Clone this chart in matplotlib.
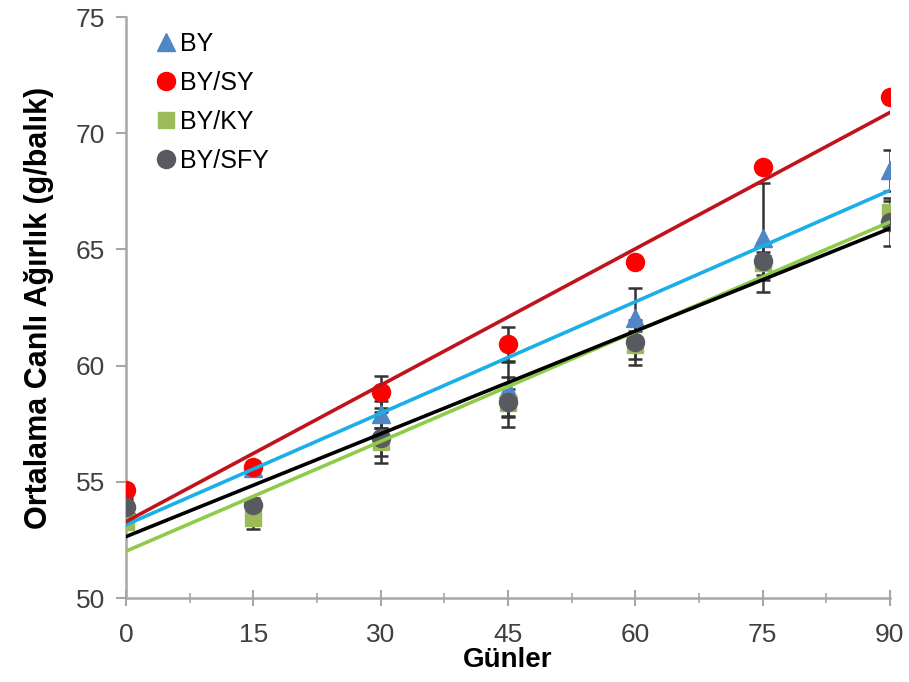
import numpy as np
import matplotlib
matplotlib.use("Agg")
import matplotlib.pyplot as plt
from matplotlib.ticker import MultipleLocator

plt.rcParams["font.family"] = ["Liberation Sans", "DejaVu Sans"]

# gunler (days)
gunler = [0, 15, 30, 45, 60, 75, 90]

# ortalama canli agirlik, g/balik
by_vals = [54.0, 55.6, 57.9, 59.0, 62.05, 65.5, 68.4]
by_err = [0.3, 0.3, 0.6, 1.15, 1.3, 2.35, 0.9]
bysy_vals = [54.65, 55.64, 58.86, 60.93, 64.46, 68.55, 71.56]
bysy_err = [0.2, 0.2, 0.7, 0.73, 0.2, 0.2, 0.2]
byky_vals = [53.27, 53.44, 56.7, 58.4, 60.9, 64.4, 66.6]
byky_err = [0.3, 0.45, 0.6, 0.6, 0.6, 0.5, 0.5]
bysfy_vals = [53.92, 54.0, 56.9, 58.43, 61.0, 64.5, 66.18]
bysfy_err = [0.3, 0.3, 1.1, 1.07, 0.95, 0.8, 1.03]

seriler = [
    ("BY", by_vals, by_err, "^", "#4F86C6", "#1AAFE6", 13),
    ("BY/SY", bysy_vals, bysy_err, "o", "#FF0000", "#C0141C", 13),
    ("BY/KY", byky_vals, byky_err, "s", "#9BBB59", "#8FCB4A", 12),
    ("BY/SFY", bysfy_vals, bysfy_err, "o", "#595A60", "#000000", 13),
]

fig = plt.figure(figsize=(9.09, 6.82), dpi=100)
ax = fig.add_axes([0.1386, 0.123, 0.8404, 0.852])

x = np.array(gunler, dtype=float)
for ad, y, err, mk, renk, cizgi, ms in seriler:
    ax.errorbar(x, y, yerr=err, fmt="none", ecolor="#333333", elinewidth=1.8,
                capsize=5, capthick=1.8, zorder=2)
    ax.plot(x, y, linestyle="none", marker=mk, color=renk, markersize=ms,
            label=ad, zorder=3)

# lineer egilim cizgileri
for ad, y, err, mk, renk, cizgi, ms in seriler:
    b, a = np.polyfit(x, y, 1)
    ax.plot([0, 90], [a, a + b * 90], color=cizgi, linewidth=2.6, zorder=4)

ax.set_xlim(0, 90)
ax.set_ylim(50, 75)
ax.xaxis.set_major_locator(MultipleLocator(15))
ax.xaxis.set_minor_locator(MultipleLocator(7.5))
ax.yaxis.set_major_locator(MultipleLocator(5))

for s in ["top", "right"]:
    ax.spines[s].set_visible(False)
for s in ["left", "bottom"]:
    ax.spines[s].set_color("#A6A6A6")
    ax.spines[s].set_linewidth(1.8)

ax.tick_params(axis="x", which="major", direction="inout", length=12, width=1.5,
               color="#A6A6A6", labelsize=19, labelcolor="#404040", pad=12)
ax.tick_params(axis="x", which="minor", direction="inout", length=7, width=1.2,
               color="#A6A6A6")
ax.tick_params(axis="y", which="major", direction="out", length=7, width=1.5,
               color="#A6A6A6", labelsize=19, labelcolor="#404040", pad=8)

ax.set_xlabel("Günler", fontsize=20, fontweight="bold", labelpad=0)
ax.set_ylabel("Ortalama Canlı Ağırlık (g/balık)", fontsize=22, fontweight="bold",
              labelpad=16)

ax.legend(loc="upper left", bbox_to_anchor=(0.02, 1.0), frameon=False, fontsize=18,
          handlelength=0.8, handletextpad=0.15, labelspacing=0.6, borderaxespad=0.2)

fig.savefig("out.png", dpi=100)
